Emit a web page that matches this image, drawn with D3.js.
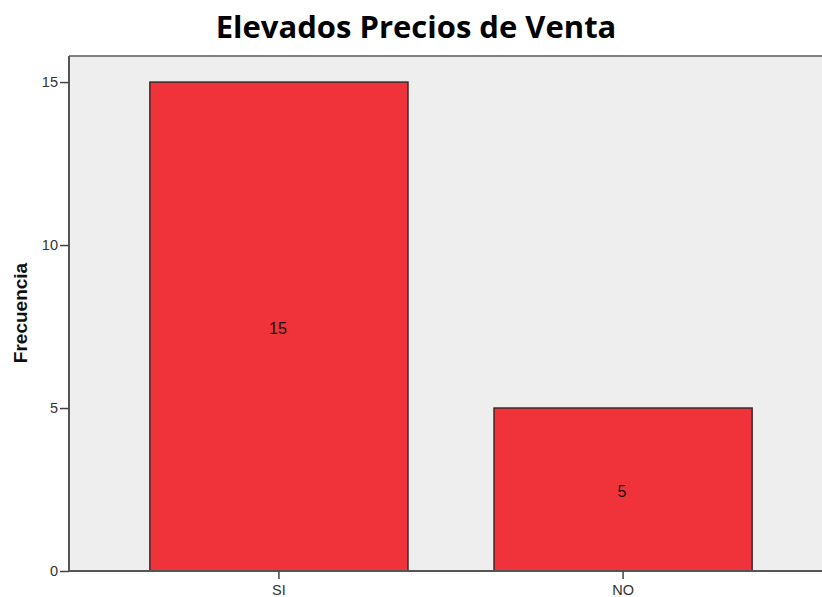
<!DOCTYPE html>
<html>
<head>
<meta charset="utf-8">
<script src="https://cdn.jsdelivr.net/npm/d3@7"></script>
<style>
  html, body { margin: 0; padding: 0; background: #fff; }
  svg { display: block; }
</style>
</head>
<body>
<svg id="chart" width="822" height="597"></svg>
<script>
// Frequency of answers for "Elevados Precios de Venta"
const categories = ["SI", "NO"];
const counts = [15, 5];
const yTicks = [0, 5, 10, 15];
const titleText = "Elevados Precios de Venta";
const yLabel = "Frecuencia";

const svg = d3.select("#chart");
const plot = { left: 69, top: 56, right: 833, bottom: 571 };
const sans = "'Liberation Sans', Arial, sans-serif";

const x = d3.scaleBand()
  .domain(categories)
  .range([plot.left, plot.right])
  .paddingInner(0.25)
  .paddingOuter(0.235);

const y = d3.scaleLinear()
  .domain([0, 15.8])
  .range([plot.bottom, plot.top]);

// plot background
svg.append("rect")
  .attr("x", plot.left).attr("y", plot.top)
  .attr("width", plot.right - plot.left)
  .attr("height", plot.bottom - plot.top)
  .attr("fill", "#eeeeee");

// top frame line
svg.append("line")
  .attr("x1", plot.left).attr("x2", 822)
  .attr("y1", plot.top).attr("y2", plot.top)
  .attr("stroke", "#808080").attr("stroke-width", 2);

// bars
svg.selectAll("rect.bar")
  .data(categories)
  .join("rect")
  .attr("class", "bar")
  .attr("x", d => x(d))
  .attr("y", (d, i) => y(counts[i]))
  .attr("width", x.bandwidth())
  .attr("height", (d, i) => y(0) - y(counts[i]))
  .attr("fill", "#f0323a")
  .attr("stroke", "#3a2a2a")
  .attr("stroke-width", 1.5);

// value labels inside bars
svg.selectAll("text.val")
  .data(categories)
  .join("text")
  .attr("class", "val")
  .attr("x", d => x(d) + x.bandwidth() / 2 - 1)
  .attr("y", (d, i) => (y(counts[i]) + y(0)) / 2 + 2)
  .attr("dy", "0.36em")
  .attr("text-anchor", "middle")
  .attr("font-family", sans)
  .attr("font-size", 16)
  .attr("fill", "#111")
  .text((d, i) => counts[i]);

// y axis
const yAxis = svg.append("g")
  .attr("transform", `translate(${plot.left},0)`)
  .call(d3.axisLeft(y).tickValues(yTicks).tickSize(9).tickPadding(2).tickFormat(d3.format("d")));
yAxis.select(".domain").attr("stroke", "#555").attr("stroke-width", 2)
  .attr("d", `M0,${plot.top}V${plot.bottom + 1}`);
yAxis.selectAll(".tick line").attr("stroke", "#444").attr("stroke-width", 1.5);
yAxis.selectAll(".tick text")
  .attr("font-family", sans)
  .attr("font-size", 14.5).attr("fill", "#333");

// x axis
const xAxis = svg.append("g")
  .attr("transform", `translate(0,${plot.bottom})`)
  .call(d3.axisBottom(x).tickSize(8).tickPadding(6));
xAxis.select(".domain").attr("stroke", "#555").attr("stroke-width", 2)
  .attr("d", `M${plot.left},0H822`);
xAxis.selectAll(".tick line").attr("stroke", "#444").attr("stroke-width", 1.5);
xAxis.selectAll(".tick text")
  .attr("font-family", sans)
  .attr("font-size", 14.5).attr("fill", "#333");

// title
svg.append("text")
  .attr("x", 416).attr("y", 38)
  .attr("text-anchor", "middle")
  .attr("font-family", "'Open Sans', Lato, sans-serif")
  .attr("font-weight", "bold")
  .attr("font-size", 31)
  .attr("fill", "#000")
  .text(titleText);

// y axis title
svg.append("text")
  .attr("transform", "translate(27,313) rotate(-90)")
  .attr("text-anchor", "middle")
  .attr("font-family", sans)
  .attr("font-weight", "bold")
  .attr("font-size", 19)
  .attr("fill", "#111")
  .text(yLabel);
</script>
</body>
</html>
